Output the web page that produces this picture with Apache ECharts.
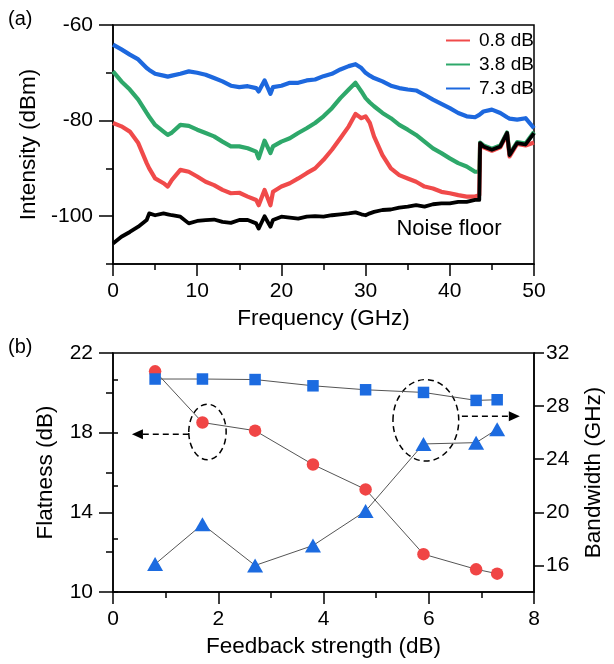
<!DOCTYPE html>
<html><head><meta charset="utf-8">
<script src="https://cdn.jsdelivr.net/npm/echarts@6/dist/echarts.min.js"></script>
<style>html,body{margin:0;padding:0;background:#fff}#c{width:614px;height:664px}</style>
</head><body><div id="c"></div>
<script>
// ---------- Panel (a) data ----------
const freqGHz = [0,1,2,3,4,4.3,5,6,6.5,7,8,9,10,11,12,13,14,15,16,17,17.3,18,18.7,19,20,21,22,23,24,25,26,27,28,28.8,29.5,30,30.5,31,32,33,34,35,36,37,38,39,40,41,42,43,43.5,43.6,44,45,46,46.8,47.1,48,49,50];
const spec73 = [-64.1,-65.1,-66.2,-67.2,-69.0,-69.4,-70.2,-70.6,-70.8,-70.6,-70.2,-69.7,-70.0,-70.4,-71.1,-71.8,-72.7,-73.0,-72.8,-73.2,-73.9,-71.6,-74.4,-73.0,-72.7,-72.1,-72.1,-71.6,-71.4,-70.7,-70.2,-69.3,-68.6,-68.2,-69.0,-70.0,-70.6,-71.1,-71.8,-72.7,-73.2,-73.5,-73.7,-74.6,-75.6,-76.5,-77.4,-78.4,-79.1,-79.3,-78.8,-78.6,-78.1,-77.7,-78.4,-79.3,-79.6,-79.8,-79.5,-81.6];
const spec38 = [-69.7,-71.8,-73.5,-75.6,-78.4,-79.2,-80.9,-82.3,-83.0,-82.5,-80.9,-81.1,-81.9,-82.6,-83.3,-84.4,-85.4,-85.4,-85.8,-86.5,-87.9,-84.2,-86.8,-85.4,-84.4,-83.7,-82.6,-81.6,-80.5,-79.1,-77.4,-75.3,-73.5,-72.1,-73.9,-75.3,-76.2,-77.0,-78.4,-79.5,-80.9,-81.9,-83.0,-84.4,-85.8,-86.8,-87.9,-88.9,-89.6,-90.7,-90.7,-84.6,-85.2,-85.9,-85.2,-82.5,-87.0,-84.5,-84.8,-82.4];
const spec08 = [-80.5,-81.2,-82.3,-84.7,-88.9,-90.0,-92.1,-93.1,-93.8,-92.4,-90.3,-90.7,-91.7,-92.8,-93.5,-94.5,-95.2,-95.1,-95.9,-96.6,-97.7,-94.5,-97.7,-94.9,-93.8,-93.1,-92.1,-91.0,-90.0,-88.2,-86.1,-83.7,-81.2,-78.6,-79.5,-79.1,-80.5,-83.3,-87.2,-90.0,-91.4,-92.1,-92.8,-93.8,-94.2,-94.9,-95.2,-95.6,-95.9,-95.9,-95.6,-84.9,-85.6,-86.3,-85.6,-82.8,-87.5,-84.9,-85.2,-84.6];
const noiseFloor = [-105.7,-104.3,-103.3,-102.2,-100.8,-99.4,-99.8,-99.4,-99.6,-99.8,-100.1,-101.5,-101.0,-100.8,-100.7,-101.2,-101.4,-100.8,-100.8,-101.5,-102.6,-100.0,-102.2,-100.8,-100.1,-100.3,-100.5,-100.1,-100.0,-100.1,-99.8,-99.6,-99.4,-99.2,-99.6,-99.8,-99.4,-99.1,-98.7,-98.6,-98.2,-98.0,-97.7,-98.0,-97.5,-97.3,-97.3,-97.0,-97.0,-96.6,-96.6,-84.7,-85.4,-86.1,-85.4,-82.6,-87.2,-84.7,-85.0,-82.6];
const legendNames = ['0.8 dB','3.8 dB','7.3 dB'];
const intensityMajorTicks = [-100,-80,-60];
const intensityMinorTicks = [-110,-90,-70];

// ---------- Panel (b) data ----------
const feedback = [0.8,1.7,2.7,3.8,4.8,5.9,6.9,7.3];
const flatness = [21.08,18.51,18.1,16.4,15.15,11.9,11.14,10.92];
const bwSquares = [30.04,30.04,30.0,29.53,29.23,29.03,28.43,28.48];
const bwTriangles = [16.1,19.1,16.0,17.5,20.1,25.15,25.25,26.26];
const bwMajorTicks = [16,20,24,28,32];
const bwMinorTicks = [14,18,22,26,30];

const F = "'Liberation Sans', Arial, sans-serif";
const BLACK = '#000';
const pairs = (xs, ys) => xs.map((x, i) => [x, ys[i]]);

const lineBase = {color: BLACK, width: 1.5};
function xAx(grid, max, interval, name) {
  return {
    gridIndex: grid, type: 'value', min: 0, max: max, interval: interval,
    name: name, nameLocation: 'middle', nameGap: 43,
    nameTextStyle: {fontSize: 22.5, color: BLACK, fontFamily: F},
    axisLine: {onZero: false, lineStyle: lineBase},
    axisTick: {length: 12, lineStyle: lineBase},
    minorTick: {show: true, splitNumber: 2, length: 6, lineStyle: lineBase},
    axisLabel: {fontSize: 21, color: BLACK, margin: 17, fontFamily: F},
    splitLine: {show: false}, minorSplitLine: {show: false}
  };
}

const option = {
  animation: false,
  backgroundColor: '#fff',
  grid: [
    {left: 113, top: 25, width: 421, height: 239, show: true, borderColor: BLACK, borderWidth: 1.5},
    {left: 113, top: 353, width: 421, height: 239, show: true, borderColor: BLACK, borderWidth: 1.5}
  ],
  legend: {
    data: legendNames, orient: 'vertical', left: 441, top: 26, itemGap: 5,
    icon: 'rect', itemWidth: 24, itemHeight: 2,
    textStyle: {fontSize: 19, color: BLACK, fontFamily: F, padding: [0, 0, 0, 4]},
    selectedMode: false
  },
  xAxis: [xAx(0, 50, 10, 'Frequency (GHz)'), xAx(1, 8, 2, 'Feedback strength (dB)')],
  yAxis: [
    {gridIndex: 0, type: 'value', min: -110, max: -60, position: 'left',
     name: 'Intensity (dBm)', nameLocation: 'middle', nameGap: 68, nameRotate: 90,
     nameTextStyle: {fontSize: 22.5, color: BLACK, fontFamily: F},
     axisLine: {show: true, onZero: false, lineStyle: lineBase},
     axisTick: {show: true, customValues: intensityMajorTicks, length: 14, lineStyle: lineBase},
     axisLabel: {customValues: intensityMajorTicks, fontSize: 21, color: BLACK, margin: 20, fontFamily: F},
     splitLine: {show: false}},
    {gridIndex: 0, type: 'value', min: -110, max: -60, position: 'left',
     axisLine: {show: false}, axisTick: {show: true, customValues: intensityMinorTicks, length: 7, lineStyle: lineBase},
     axisLabel: {show: false}, splitLine: {show: false}},
    {gridIndex: 1, type: 'value', min: 10, max: 22, interval: 4, position: 'left',
     name: 'Flatness (dB)', nameLocation: 'middle', nameGap: 56, nameRotate: 90,
     nameTextStyle: {fontSize: 22.5, color: BLACK, fontFamily: F},
     axisLine: {show: true, onZero: false, lineStyle: lineBase},
     axisTick: {show: true, length: 14, lineStyle: lineBase},
     minorTick: {show: true, splitNumber: 2, length: 7, lineStyle: lineBase},
     axisLabel: {fontSize: 21, color: BLACK, margin: 20, fontFamily: F},
     splitLine: {show: false}, minorSplitLine: {show: false}},
    {gridIndex: 1, type: 'value', min: 14, max: 32, position: 'right',
     name: 'Bandwidth (GHz)', nameLocation: 'middle', nameGap: 48, nameRotate: 90,
     nameTextStyle: {fontSize: 22.5, color: BLACK, fontFamily: F},
     axisLine: {show: true, onZero: false, lineStyle: lineBase},
     axisTick: {show: true, customValues: bwMajorTicks, length: 10, lineStyle: lineBase},
     axisLabel: {customValues: bwMajorTicks, fontSize: 21, color: BLACK, margin: 12, fontFamily: F},
     splitLine: {show: false}},
    {gridIndex: 1, type: 'value', min: 14, max: 32, position: 'right',
     axisLine: {show: false}, axisTick: {show: true, customValues: bwMinorTicks, length: 5, lineStyle: lineBase},
     axisLabel: {show: false}, splitLine: {show: false}}
  ],
  series: [
    {name: '7.3 dB', type: 'line', xAxisIndex: 0, yAxisIndex: 0, data: pairs(freqGHz, spec73),
     showSymbol: false, symbol: 'none', color: '#1D68DE', lineStyle: {color: '#1D68DE', width: 4.2, join: 'round'}, silent: true},
    {name: '3.8 dB', type: 'line', xAxisIndex: 0, yAxisIndex: 0, data: pairs(freqGHz, spec38),
     showSymbol: false, symbol: 'none', color: '#2EA86A', lineStyle: {color: '#2EA86A', width: 4.2, join: 'round'}, silent: true},
    {name: '0.8 dB', type: 'line', xAxisIndex: 0, yAxisIndex: 0, data: pairs(freqGHz, spec08),
     showSymbol: false, symbol: 'none', color: '#F04A4A', lineStyle: {color: '#F04A4A', width: 4.2, join: 'round'}, silent: true},
    {name: 'Noise floor', type: 'line', xAxisIndex: 0, yAxisIndex: 0, data: pairs(freqGHz, noiseFloor),
     showSymbol: false, symbol: 'none', color: BLACK, lineStyle: {color: BLACK, width: 3.8, join: 'round'}, silent: true},
    {name: 'Flatness', type: 'line', xAxisIndex: 1, yAxisIndex: 2, data: pairs(feedback, flatness),
     symbol: 'circle', symbolSize: 12.5, itemStyle: {color: '#F04545'},
     lineStyle: {color: '#555', width: 1}, silent: true},
    {name: 'BW squares', type: 'line', xAxisIndex: 1, yAxisIndex: 3, data: pairs(feedback, bwSquares),
     symbol: 'rect', symbolSize: 11.5, itemStyle: {color: '#1C6BE0'},
     lineStyle: {color: '#555', width: 1}, silent: true},
    {name: 'BW triangles', type: 'line', xAxisIndex: 1, yAxisIndex: 3, data: pairs(feedback, bwTriangles),
     symbol: 'triangle', symbolSize: [16, 14], itemStyle: {color: '#1C6BE0'},
     lineStyle: {color: '#555', width: 1}, silent: true}
  ]
};

const chart = echarts.init(document.getElementById('c'), null, {renderer: 'canvas'});
chart.setOption(option);

// ---------- annotations positioned through the axes ----------
const pL = v => chart.convertToPixel({seriesIndex: 4}, v);  // flatness axes
const pR = v => chart.convertToPixel({seriesIndex: 5}, v);  // bandwidth axes
const pA = v => chart.convertToPixel({seriesIndex: 3}, v);  // panel (a)

const dash = {stroke: BLACK, lineWidth: 1.5, lineDash: [6, 4], fill: null};
function ellipseFrom(p1, p2) {
  return {type: 'ellipse', silent: true,
    shape: {cx: (p1[0] + p2[0]) / 2, cy: (p1[1] + p2[1]) / 2, rx: Math.abs(p2[0] - p1[0]) / 2, ry: Math.abs(p2[1] - p1[1]) / 2},
    style: dash};
}
function arrow(from, to) {
  const dir = Math.sign(to[0] - from[0]);
  const headLen = 11, headHalf = 5;
  const base = [to[0] - dir * headLen, to[1]];
  return [
    {type: 'line', silent: true, shape: {x1: from[0], y1: from[1], x2: base[0], y2: base[1]}, style: {stroke: BLACK, lineWidth: 1.5, lineDash: [6, 4]}},
    {type: 'polygon', silent: true, shape: {points: [[to[0], to[1]], [base[0], base[1] - headHalf], [base[0], base[1] + headHalf]]}, style: {fill: BLACK}}
  ];
}

const leftEll = ellipseFrom(pL([1.44, 19.43]), pL([2.15, 16.64]));
const rightEll = ellipseFrom(pR([5.32, 30.0]), pR([6.57, 23.86]));
const la = arrow(pL([1.44, 17.92]), pL([0.36, 17.92]));
const ra = arrow(pR([6.63, 27.23]), pR([7.73, 27.23]));
const nf = pA([39.9, -102.6]);

chart.setOption({graphic: [
  leftEll, rightEll, ...la, ...ra,
  {type: 'text', silent: true, x: nf[0], y: nf[1], style: {text: 'Noise floor', font: "22px " + F, fill: BLACK, align: 'center', verticalAlign: 'middle'}},
  {type: 'text', silent: true, left: 8, top: 9, style: {text: '(a)', font: "20px " + F, fill: BLACK}},
  {type: 'text', silent: true, left: 8, top: 337, style: {text: '(b)', font: "20px " + F, fill: BLACK}}
]});
</script>
</body></html>
